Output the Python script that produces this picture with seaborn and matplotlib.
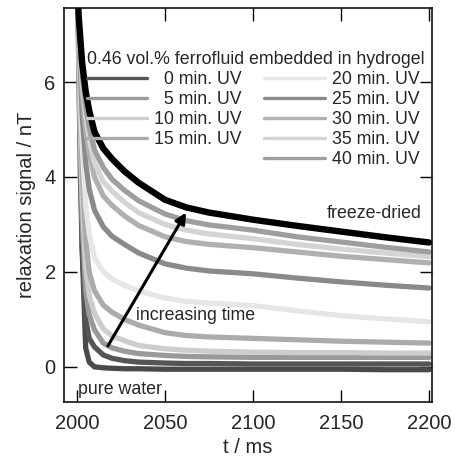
import numpy as np
import pandas as pd
import seaborn as sns
import matplotlib
matplotlib.use("Agg")
import matplotlib.pyplot as plt
from matplotlib.lines import Line2D

# --- data (t in ms, signal in nT) ---
t_ms = [2000.6, 2001, 2002, 2003, 2005, 2007, 2010, 2015, 2020, 2027, 2035,
        2050, 2062, 2075, 2100, 2125, 2150, 2175, 2200]

pure_water = [7.8, 7.3, 5.0, 2.5, 0.4, 0.1, 0.0, -0.02, -0.03, -0.04, -0.04,
              -0.05, -0.05, -0.05, -0.05, -0.05, -0.05, -0.06, -0.06]
uv_0 = [7.8, 6.5, 4.0, 2.5, 1.0, 0.6, 0.42, 0.25, 0.18, 0.13, 0.1,
        0.08, 0.07, 0.07, 0.06, 0.06, 0.06, 0.06, 0.06]
uv_5 = [7.8, 6.7, 4.6, 3.1, 1.6, 1.1, 0.78, 0.5, 0.4, 0.33, 0.28,
        0.24, 0.22, 0.21, 0.2, 0.2, 0.2, 0.2, 0.2]
uv_10 = [7.8, 6.8, 5.0, 3.6, 2.1, 1.5, 1.13, 0.8, 0.65, 0.55, 0.45,
         0.38, 0.35, 0.33, 0.31, 0.3, 0.3, 0.29, 0.29]
uv_15 = [7.8, 6.9, 5.4, 4.2, 2.7, 2.0, 1.6, 1.3, 1.15, 1.0, 0.88,
         0.72, 0.66, 0.63, 0.6, 0.57, 0.54, 0.52, 0.5]
uv_20 = [7.8, 7.0, 5.8, 4.7, 3.4, 2.8, 2.3, 2.0, 1.85, 1.72, 1.6,
         1.45, 1.38, 1.34, 1.29, 1.18, 1.08, 1.01, 0.95]
uv_25 = [7.8, 7.1, 6.2, 5.3, 4.3, 3.75, 3.3, 2.95, 2.75, 2.58, 2.4,
         2.17, 2.08, 2.02, 1.96, 1.87, 1.79, 1.72, 1.66]
uv_30 = [7.8, 7.2, 6.5, 5.8, 5.0, 4.5, 4.0, 3.6, 3.4, 3.18, 2.98,
         2.74, 2.64, 2.58, 2.51, 2.42, 2.33, 2.26, 2.19]
uv_35 = [7.8, 7.2, 6.6, 6.0, 5.3, 4.8, 4.3, 3.9, 3.7, 3.47, 3.25,
         3.0, 2.88, 2.8, 2.7, 2.58, 2.48, 2.4, 2.32]
uv_40 = [7.8, 7.3, 6.7, 6.2, 5.5, 5.05, 4.57, 4.2, 3.95, 3.72, 3.5,
         3.22, 3.08, 2.99, 2.88, 2.74, 2.63, 2.52, 2.42]
freeze_dried = [7.8, 7.4, 6.9, 6.4, 5.8, 5.4, 4.95, 4.6, 4.38, 4.12, 3.88,
                3.52, 3.36, 3.25, 3.1, 2.97, 2.85, 2.73, 2.62]

uv_labels = ["0 min. UV", "5 min. UV", "10 min. UV", "15 min. UV", "20 min. UV",
             "25 min. UV", "30 min. UV", "35 min. UV", "40 min. UV"]
uv_series = [uv_0, uv_5, uv_10, uv_15, uv_20, uv_25, uv_30, uv_35, uv_40]
uv_colors = ["#555555", "#9a9a9a", "#cdcdcd", "#ababab", "#e6e6e6",
             "#8a8a8a", "#b0b0b0", "#d4d4d4", "#9e9e9e"]

# long table, drawing order: pure water, UV series, freeze-dried on top
names = ["pure water"] + uv_labels + ["freeze-dried"]
series = [pure_water] + uv_series + [freeze_dried]
colors = ["#4a4a4a"] + uv_colors + ["#000000"]
df = pd.concat([pd.DataFrame({"t": t_ms, "signal": s, "sample": n})
                for n, s in zip(names, series)], ignore_index=True)

sns.set_style("ticks")
plt.rcParams["font.family"] = ["Liberation Sans", "DejaVu Sans"]

fig = plt.figure(figsize=(4.55, 4.63), dpi=100)
ax = fig.add_axes([0.1407, 0.1318, 0.8088, 0.851])

sns.lineplot(data=df, x="t", y="signal", hue="sample", hue_order=names,
             palette=dict(zip(names, colors)), estimator=None, sort=False,
             linewidth=3.8, legend=False, ax=ax)
for ln in ax.lines:
    ln.set_solid_joinstyle("round")
ax.lines[-1].set_linewidth(4.6)

ax.set_xlim(1992.7, 2201.7)
ax.set_ylim(-0.74, 7.56)
ax.set_xticks([2000, 2050, 2100, 2150, 2200])
ax.set_yticks([0, 2, 4, 6])
ax.tick_params(direction="in", top=True, right=True, length=9, width=1,
               labelsize=14.5, color="black")
ax.tick_params(axis="x", pad=9)
ax.tick_params(axis="y", pad=6)
for sp in ax.spines.values():
    sp.set_linewidth(1.1)
    sp.set_color("black")
ax.set_xlabel("t / ms", fontsize=14.5, labelpad=3)
ax.set_ylabel("relaxation signal / nT", fontsize=14.5, labelpad=6)

# legend: first column 0-15 min (plus an empty slot), second column 20-40 min
handles = [Line2D([], [], color=c, lw=2.4) for c in uv_colors]
labels = [("\u2007" + l) if len(l.split()[0]) == 1 else l for l in uv_labels]
blank = Line2D([], [], color="none")
handles = handles[:4] + [blank] + handles[4:]
labels = labels[:4] + [""] + labels[4:]
leg = ax.legend(handles, labels, ncol=2, loc="upper left",
                bbox_to_anchor=(0.062, 0.89), frameon=False,
                title="0.46 vol.% ferrofluid embedded in hydrogel",
                fontsize=12.8, title_fontsize=12.8, handlelength=3.4,
                handletextpad=0.4, columnspacing=1.25, labelspacing=0.17,
                borderpad=0, borderaxespad=0)
leg._legend_box.align = "left"

ax.text(2196, 3.24, "freeze-dried", ha="right", va="center", fontsize=12.8)
ax.text(2033.5, 1.09, "increasing time", ha="left", va="center", fontsize=12.8)
ax.text(2000.6, -0.48, "pure water", ha="left", va="center", fontsize=12.8)
ax.annotate("", xy=(2062, 3.25), xytext=(2017.6, 0.44),
            arrowprops=dict(arrowstyle="-|>", color="black", lw=2.2,
                            mutation_scale=16, shrinkA=0, shrinkB=0))

fig.savefig("out.png", dpi=100)
